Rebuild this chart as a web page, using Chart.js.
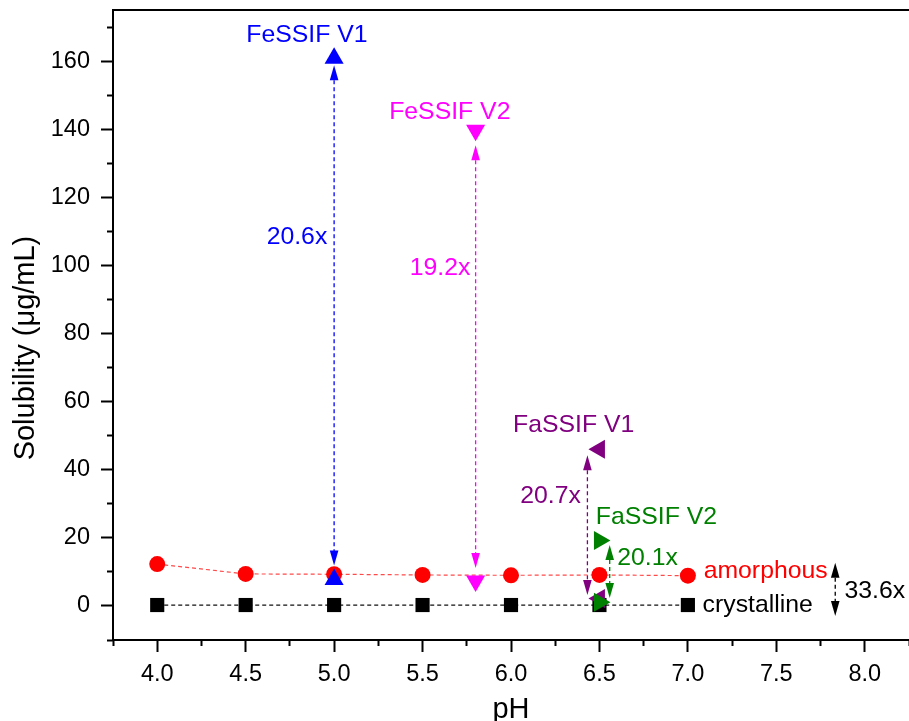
<!DOCTYPE html>
<html>
<head>
<meta charset="utf-8">
<script src="https://cdn.jsdelivr.net/npm/chart.js@4.4.1/dist/chart.umd.min.js"></script>
<style>
  html, body { margin: 0; padding: 0; background: #ffffff; }
  canvas { display: block; }
</style>
</head>
<body>
<canvas id="c" width="909" height="721"></canvas>
<script>
// ---------------- DATA ----------------
const pH = [4.0, 4.5, 5.0, 5.5, 6.0, 6.5, 7.0];
const amorphous = [12.3, 9.4, 9.3, 9.1, 9.0, 9.1, 8.9];
const crystalline = [0.27, 0.27, 0.27, 0.27, 0.27, 0.27, 0.27];
const seriesNames = ['amorphous', 'crystalline'];

const mediaNames = ['FeSSIF V1', 'FeSSIF V2', 'FaSSIF V1', 'FaSSIF V2'];
const mediaPH = [5.0, 5.8, 6.5, 6.5];
const mediaAmorphous = [160.8, 139.7, 46.0, 19.2];
const mediaCrystalline = [7.8, 7.3, 2.2, 1.1];
const mediaRatio = ['20.6x', '19.2x', '20.7x', '20.1x'];
const bufferRatio = '33.6x';

const xTicks = [4.0, 4.5, 5.0, 5.5, 6.0, 6.5, 7.0, 7.5, 8.0];
const xMinorTicks = [3.75, 4.25, 4.75, 5.25, 5.75, 6.25, 6.75, 7.25, 7.75, 8.25];
const yTicks = [0, 20, 40, 60, 80, 100, 120, 140, 160];
const yMinorTicks = [-10, 10, 30, 50, 70, 90, 110, 130, 150, 170];
const xTitle = 'pH';
const yTitle = 'Solubility (\u03BCg/mL)';

// ---------------- STYLE / LAYOUT ----------------
const FONT = '"Liberation Sans", Arial, Helvetica, sans-serif';
const X_MIN = 3.75, X_MAX = 8.25, Y_MIN = -10, Y_MAX = 175;
const mediaColors = ['#0000ff', '#ff00ff', '#800080', '#008000'];
const mediaRotation = [0, 180, 270, 90];
const mediaOrder = [4, 3, 2, 1];
// arrow layout: pH offset of the shaft, pixel inset of the tips from the two values
const arrowLayout = [
  { dx: 0,      topInset: 7,   bottomInset: 14 },
  { dx: 0,      topInset: 15,  bottomInset: 13 },
  { dx: -0.068, topInset: 6,   bottomInset: 3.5 },
  { dx: 0.058,  topInset: 4.4, bottomInset: 4.3 }
];
const bufferArrowLayout = { dx: 0.833, topInset: -13, bottomInset: -11, color: '#000000' };
// text anchor positions (data units)
const mediaLabelPos = [[4.846, 167.5], [5.654, 145.0], [6.354, 53.1], [6.822, 26.2]];
const ratioLabelPos = [[4.79, 108.4], [5.599, 99.1], [6.224, 32.1], [6.772, 14.0]];
const seriesLabelPos = [[7.089, 10.3], [7.083, 0.23]];
const seriesLabelColors = ['#ff0000', '#000000'];
const bufferRatioPos = [7.885, 4.2];

Chart.defaults.font.family = FONT;
Chart.defaults.color = '#000';

function arrowHead(ctx, x, y, dir, color) {
  const L = 15, W = 4.3;
  ctx.save();
  ctx.fillStyle = color;
  ctx.beginPath();
  ctx.moveTo(x, y);
  ctx.lineTo(x - W, y + dir * L);
  ctx.lineTo(x + W, y + dir * L);
  ctx.closePath();
  ctx.fill();
  ctx.restore();
}

function drawArrow(chart, xv, lowV, highV, lay, color) {
  const xs = chart.scales.x, ys = chart.scales.y, ctx = chart.ctx;
  const px = xs.getPixelForValue(xv + lay.dx);
  const yTop = ys.getPixelForValue(highV) + lay.topInset;
  const yBot = ys.getPixelForValue(lowV) - lay.bottomInset;
  ctx.save();
  ctx.strokeStyle = color;
  ctx.lineWidth = 1.3;
  ctx.setLineDash([4, 3]);
  ctx.beginPath();
  ctx.moveTo(px, yTop + 8);
  ctx.lineTo(px, yBot - 8);
  ctx.stroke();
  ctx.restore();
  arrowHead(ctx, px, yTop, 1, color);
  arrowHead(ctx, px, yBot, -1, color);
}

const annotationPlugin = {
  id: 'annot',
  beforeDatasetsDraw(chart) {
    for (let i = 0; i < mediaNames.length; i++) {
      drawArrow(chart, mediaPH[i], mediaCrystalline[i], mediaAmorphous[i], arrowLayout[i], mediaColors[i]);
    }
    const last = pH.length - 1;
    drawArrow(chart, pH[last], crystalline[last], amorphous[last], bufferArrowLayout, bufferArrowLayout.color);
  },
  afterDatasetsDraw(chart) {
    const xs = chart.scales.x, ys = chart.scales.y, ctx = chart.ctx;
    ctx.save();
    ctx.font = '24.8px ' + FONT;
    ctx.textBaseline = 'middle';
    ctx.textAlign = 'center';
    for (let i = 0; i < mediaNames.length; i++) {
      ctx.fillStyle = mediaColors[i];
      ctx.fillText(mediaNames[i], xs.getPixelForValue(mediaLabelPos[i][0]), ys.getPixelForValue(mediaLabelPos[i][1]));
      ctx.fillText(mediaRatio[i], xs.getPixelForValue(ratioLabelPos[i][0]), ys.getPixelForValue(ratioLabelPos[i][1]));
    }
    ctx.textAlign = 'left';
    for (let i = 0; i < seriesNames.length; i++) {
      ctx.fillStyle = seriesLabelColors[i];
      ctx.fillText(seriesNames[i], xs.getPixelForValue(seriesLabelPos[i][0]), ys.getPixelForValue(seriesLabelPos[i][1]));
    }
    ctx.fillStyle = '#000';
    ctx.fillText(bufferRatio, xs.getPixelForValue(bufferRatioPos[0]), ys.getPixelForValue(bufferRatioPos[1]));
    ctx.restore();
  }
};

const datasets = [
  {
    label: seriesNames[0],
    data: pH.map((x, i) => ({ x, y: amorphous[i] })),
    showLine: true,
    borderColor: '#ff4a4a',
    borderWidth: 1.2,
    borderDash: [4, 3],
    pointStyle: 'circle',
    pointRadius: 8,
    pointBackgroundColor: '#ff0000',
    pointBorderWidth: 0,
    order: 10
  },
  {
    label: seriesNames[1],
    data: pH.map((x, i) => ({ x, y: crystalline[i] })),
    showLine: true,
    borderColor: '#111111',
    borderWidth: 1.2,
    borderDash: [4, 3],
    pointStyle: 'rect',
    pointRadius: 10,
    pointBackgroundColor: '#000000',
    pointBorderWidth: 0,
    order: 9
  }
];
for (let i = 0; i < mediaNames.length; i++) {
  datasets.push({
    label: mediaNames[i],
    data: [{ x: mediaPH[i], y: mediaAmorphous[i] }, { x: mediaPH[i], y: mediaCrystalline[i] }],
    showLine: false,
    pointStyle: 'triangle',
    pointRotation: mediaRotation[i],
    pointRadius: 11,
    pointBackgroundColor: mediaColors[i],
    pointBorderWidth: 0,
    order: mediaOrder[i]
  });
}

const axisFont = { family: FONT, size: 23.5 };
function noPad(s) { s.paddingTop = 0; s.paddingBottom = 0; s.paddingLeft = 0; s.paddingRight = 0; }

new Chart(document.getElementById('c'), {
  type: 'scatter',
  data: { datasets },
  plugins: [annotationPlugin],
  options: {
    responsive: false,
    animation: false,
    devicePixelRatio: 1,
    layout: { autoPadding: false, padding: { top: 10, right: 0, bottom: 0, left: 0 } },
    plugins: { legend: { display: false }, tooltip: { enabled: false } },
    scales: {
      x: {
        type: 'linear', position: 'bottom', weight: 1, min: X_MIN, max: X_MAX,
        afterBuildTicks: s => { s.ticks = xTicks.map(v => ({ value: v })); },
        afterFit: s => { s.height = 81; noPad(s); },
        grid: { display: true, drawOnChartArea: false, drawTicks: true, tickLength: 12, tickWidth: 2, tickColor: '#000' },
        border: { display: true, width: 2, color: '#000' },
        ticks: { color: '#000', font: axisFont, padding: 8, maxRotation: 0, autoSkip: false, callback: v => Number(v).toFixed(1) },
        title: { display: true, text: xTitle, color: '#000', font: { family: FONT, size: 29, lineHeight: 1 }, padding: { top: 0, bottom: -3 } }
      },
      xMinor: {
        type: 'linear', position: 'bottom', weight: 0, min: X_MIN, max: X_MAX,
        afterBuildTicks: s => { s.ticks = xMinorTicks.map(v => ({ value: v })); },
        afterFit: s => { s.height = 0; noPad(s); },
        grid: { display: true, drawOnChartArea: false, drawTicks: true, tickLength: 6, tickWidth: 2, tickColor: '#000' },
        border: { display: false },
        ticks: { display: false }
      },
      xTop: {
        type: 'linear', position: 'top', min: X_MIN, max: X_MAX,
        afterFit: s => { s.height = 0; noPad(s); },
        grid: { display: false },
        border: { display: true, width: 2, color: '#000' },
        ticks: { display: false }
      },
      y: {
        type: 'linear', position: 'left', weight: 1, min: Y_MIN, max: Y_MAX,
        afterBuildTicks: s => { s.ticks = yTicks.map(v => ({ value: v })); },
        afterFit: s => { s.width = 113; noPad(s); },
        grid: { display: true, drawOnChartArea: false, drawTicks: true, tickLength: 12, tickWidth: 2, tickColor: '#000' },
        border: { display: true, width: 2, color: '#000' },
        ticks: { color: '#000', font: axisFont, padding: 11, autoSkip: false, callback: v => String(v) },
        title: { display: true, text: yTitle + '     \u2009', color: '#000', font: { family: FONT, size: 29, lineHeight: 1 }, padding: { top: 11, bottom: 0 } }
      },
      yMinor: {
        type: 'linear', position: 'left', weight: 0, min: Y_MIN, max: Y_MAX,
        afterBuildTicks: s => { s.ticks = yMinorTicks.map(v => ({ value: v })); },
        afterFit: s => { s.width = 0; noPad(s); },
        grid: { display: true, drawOnChartArea: false, drawTicks: true, tickLength: 6, tickWidth: 2, tickColor: '#000' },
        border: { display: false },
        ticks: { display: false }
      }
    }
  }
});
</script>
</body>
</html>
